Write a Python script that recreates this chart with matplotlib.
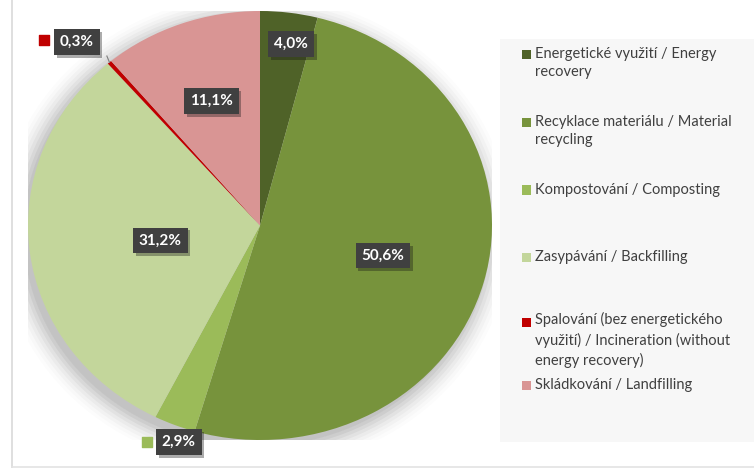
import matplotlib
matplotlib.use("Agg")
import matplotlib.pyplot as plt
from matplotlib.patches import Rectangle, Ellipse
from matplotlib.lines import Line2D
import matplotlib.patheffects as pe
import numpy as np

categories = [
    "Energetické využití / Energy\nrecovery",
    "Recyklace materiálu / Material\nrecycling",
    "Kompostování / Composting",
    "Zasypávání / Backfilling",
    "Spalování (bez energetického\nvyužití) / Incineration (without\nenergy recovery)",
    "Skládkování / Landfilling",
]
values = [4.0, 50.6, 2.9, 31.2, 0.3, 11.1]
labels = ["4,0%", "50,6%", "2,9%", "31,2%", "0,3%", "11,1%"]
colors = ["#4F6228", "#77933C", "#9BBB59", "#C3D69B", "#C00000", "#D99594"]

plt.rcParams['font.family'] = ['Lato', 'DejaVu Sans']

W, H = 754, 468
fig = plt.figure(figsize=(W/100, H/100), dpi=100)
fig.patch.set_facecolor("white")

# chart-area border (left and bottom edges visible)
fig.lines.append(Line2D([12/W, 12/W], [0, 1], transform=fig.transFigure,
                        color="#D9D9D9", lw=1.2, zorder=0))
fig.lines.append(Line2D([12/W, 1], [1.5/H, 1.5/H], transform=fig.transFigure,
                        color="#E3E3E3", lw=1.2, zorder=0))

# legend background panel
fig.patches.append(Rectangle((500/W, (H-442)/H), (W-500)/W, 403/H,
                             transform=fig.transFigure, facecolor="#F7F7F7",
                             edgecolor="none", zorder=0))

ax = fig.add_axes([28/W, (H-440)/H, 464/W, 429/H])
ax.set_zorder(1)

# soft shadow
for i, a in enumerate(np.linspace(0.05, 0.012, 8)):
    ax.add_patch(Ellipse((-0.02, -0.03), 2 + 0.03*i, 2 + 0.03*i,
                         facecolor="black", alpha=a, edgecolor="none", zorder=0))

wedges, _ = ax.pie(values, colors=colors, startangle=90, counterclock=False,
                   radius=1, wedgeprops=dict(linewidth=0))
ax.set_aspect('auto')
ax.set_xlim(-1, 1)
ax.set_ylim(-1, 1)
ax.axis('off')

label_pos = {
    0: (0.134, 0.846),
    1: (0.53, -0.14),
    2: (-0.35, -1.01),
    3: (-0.43, -0.07),
    4: (-0.79, 0.855),
    5: (-0.21, 0.58),
}
for i, lab in enumerate(labels):
    x, y = label_pos[i]
    t = ax.text(x, y, lab, ha='center', va='center', color='white',
                fontsize=11, fontweight='bold', zorder=5,
                bbox=dict(boxstyle='square,pad=0.38', facecolor='#404040',
                          edgecolor='none'))
    t.get_bbox_patch().set_path_effects([pe.SimplePatchShadow(offset=(2, -2), alpha=0.35), pe.Normal()])

# legend-key squares next to outside labels
ax.scatter([-0.93], [0.866], marker='s', s=45, color=colors[4], zorder=5)
ax.scatter([-0.485], [-1.01], marker='s', s=45, color=colors[2], zorder=5, clip_on=False)

# leader line for 0,3%
ang = np.deg2rad(90 - 360*(sum(values[:4]) + values[4]/2)/sum(values))
ax.plot([-0.66, np.cos(ang)], [0.79, np.sin(ang)], color='#7F7F7F', lw=0.8, zorder=4)

# manual legend
leg_y = [63, 131, 190, 257, 340, 385]
for i, (c, name) in enumerate(zip(colors, categories)):
    nlines = name.count("\n") + 1
    ytop = leg_y[i] - (nlines - 1) * 17.5 / 2
    fig.patches.append(Rectangle((522/W, (H - ytop - 4.5)/H), 9/W, 9/H,
                                 transform=fig.transFigure, facecolor=c,
                                 edgecolor='none', zorder=2))
    fig.text(535/W, (H - leg_y[i])/H, name, ha='left', va='center',
             fontsize=10.5, color='#404040', linespacing=1.42, zorder=3)

fig.savefig("out.png", dpi=100, facecolor="white")
